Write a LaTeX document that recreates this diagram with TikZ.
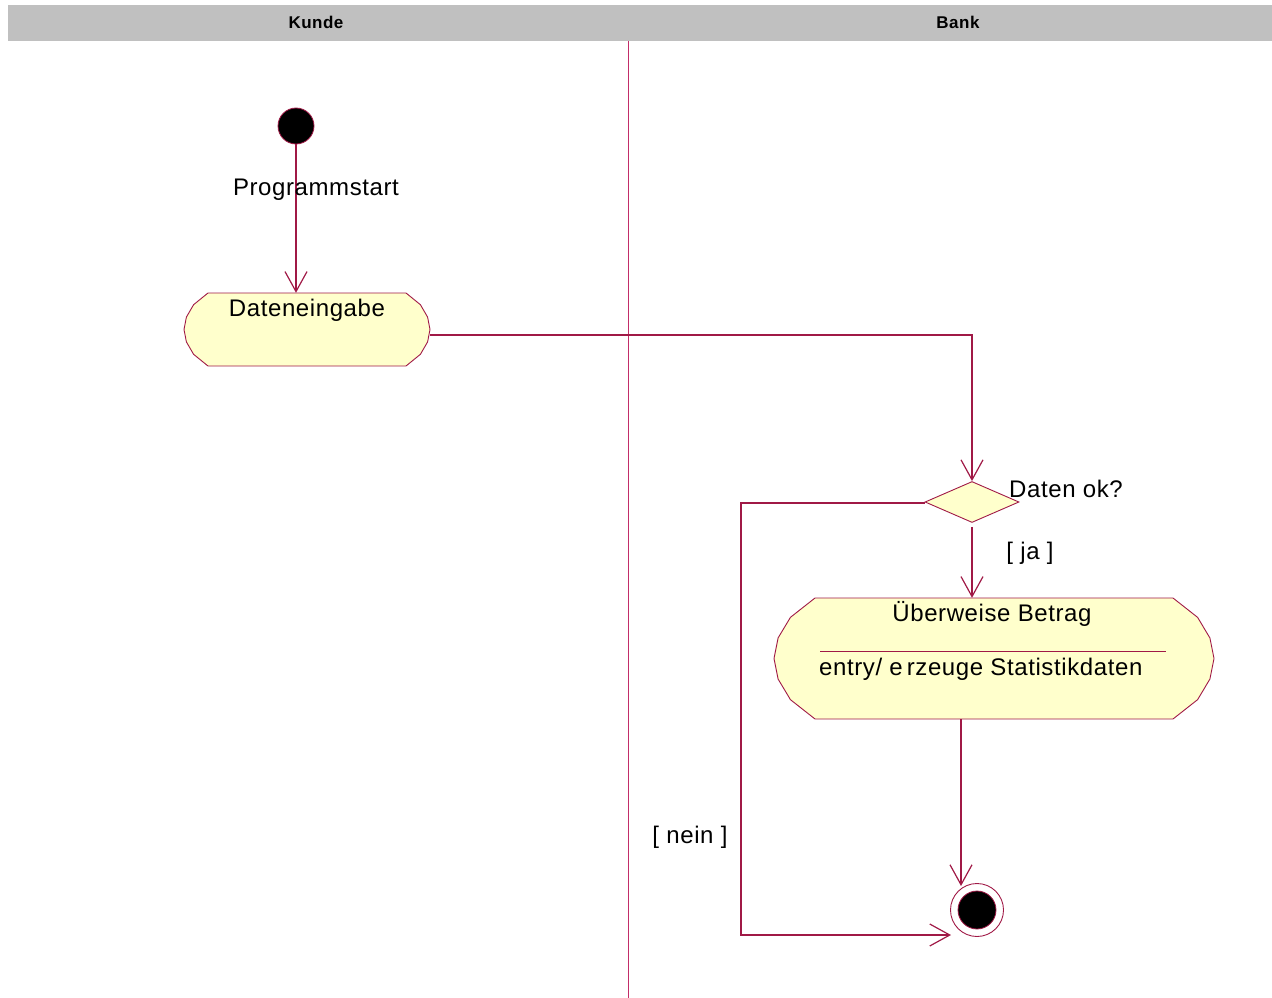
\documentclass[tikz,border=0pt]{standalone}
\usepackage{fontspec}
\setmainfont{Liberation Sans}
\newfontfamily\lblfont{Liberation Sans}[LetterSpace=2.5]
\newfontfamily\headfont{Liberation Sans}[LetterSpace=3]
\usetikzlibrary{arrows.meta,shapes.geometric,calc}

\definecolor{flowcol}{RGB}{160,25,70}
\definecolor{lanecol}{RGB}{195,45,105}
\definecolor{actfill}{RGB}{255,255,204}
\definecolor{headgray}{RGB}{192,192,192}

\tikzset{
  flow/.style={draw=flowcol, line width=1.2pt,
    -{Straight Barb[length=20pt,width=22pt,line width=1.2pt]}},
  plain/.style={draw=flowcol, line width=1.2pt},
  actline/.style={draw=flowcol, line width=0.9pt, fill=actfill},
  lbl/.style={inner sep=0pt, font=\lblfont\fontsize{24}{28}\selectfont},
  head/.style={inner sep=0pt, font=\headfont\bfseries\fontsize{17}{20}\selectfont},
}

% activity outline: west, east, top, bottom, corner inset
\newcommand\actoutline[5]{%
  \path[actline]
    ({#1+#5},#3) -- ({#2-#5},#3)
    -- ({#2-0.4*#5},{#3+0.16*(#4-#3)}) -- ({#2-0.1*#5},{#3+0.33*(#4-#3)})
    -- (#2,{#3+0.5*(#4-#3)})
    -- ({#2-0.1*#5},{#3+0.67*(#4-#3)}) -- ({#2-0.4*#5},{#3+0.84*(#4-#3)})
    -- ({#2-#5},#4) -- ({#1+#5},#4)
    -- ({#1+0.4*#5},{#3+0.84*(#4-#3)}) -- ({#1+0.1*#5},{#3+0.67*(#4-#3)})
    -- (#1,{#3+0.5*(#4-#3)})
    -- ({#1+0.1*#5},{#3+0.33*(#4-#3)}) -- ({#1+0.4*#5},{#3+0.16*(#4-#3)})
    -- cycle;}

\begin{document}
\begin{tikzpicture}[x=1pt,y=-1pt]
\useasboundingbox (0,0) rectangle (1272,998);

% swimlane header
\fill[headgray] (8,5) rectangle (1272,41);
\node[head] (kunde) at (316,22) {Kunde};
\node[head] (bank) at (958,22) {Bank};
\draw[lanecol, line width=0.9pt] (628,41) -- (628,998);

% activities
\actoutline{184}{430}{293}{366}{24}
\node[inner sep=0pt, minimum width=246pt, minimum height=73pt] (dat) at (307,329.5) {};
\node[lbl] (datlbl) at (307,310) {Dateneingabe};

\actoutline{774}{1214}{598}{719}{41}
\node[inner sep=0pt, minimum width=440pt, minimum height=121pt] (ueb) at (994,658.5) {};
\node[lbl] (ueblbl) at (992,614) {Überweise Betrag};
\draw[plain, line width=0.9pt] (820,651) -- (1166,651);
\node[lbl, anchor=west] (entry) at (819,669) {entry/ e\,rzeuge Statistikdaten};

% start, decision, end
\node[circle, fill=black, draw=flowcol, line width=0.8pt, minimum size=36pt, inner sep=0pt] (start) at (296,126) {};
\node[diamond, draw=flowcol, fill=actfill, line width=0.9pt, aspect=2.3,
      minimum width=94pt, minimum height=41pt, inner sep=0pt] (dec) at (972,502) {};
\node[lbl, anchor=west] (declbl) at (1009,489) {Daten ok?};
\node[circle, draw=flowcol, line width=0.9pt, minimum size=53pt, inner sep=0pt] (final) at (977,910) {};
\node[circle, fill=black, draw=flowcol, line width=0.8pt, minimum size=38pt, inner sep=0pt] (finalin) at (977,910) {};

\coordinate (finin) at (961,886);
\coordinate (finleft) at (951,935);
\coordinate (neincorner) at (741,935);

% transitions
\draw[flow] (start.south) -- (start.south |- dat.north);
\node[lbl] (startlbl) at (316,190) {Programmstart};
\draw[flow] ([yshift=-5.5pt]dat.east) -| (dec.north);
\draw[flow] ([yshift=-4pt]dec.south) -- (dec.south |- ueb.north);
\node[lbl] (ja) at (1030,553) {[ ja ]};
\draw[flow] (ueb.south -| finin) -- (finin);
\draw[flow] ([yshift=-1pt]dec.west) -| (neincorner) -- (finleft);
\node[lbl] (nein) at (690,837) {[ nein ]};
\end{tikzpicture}
\end{document}
